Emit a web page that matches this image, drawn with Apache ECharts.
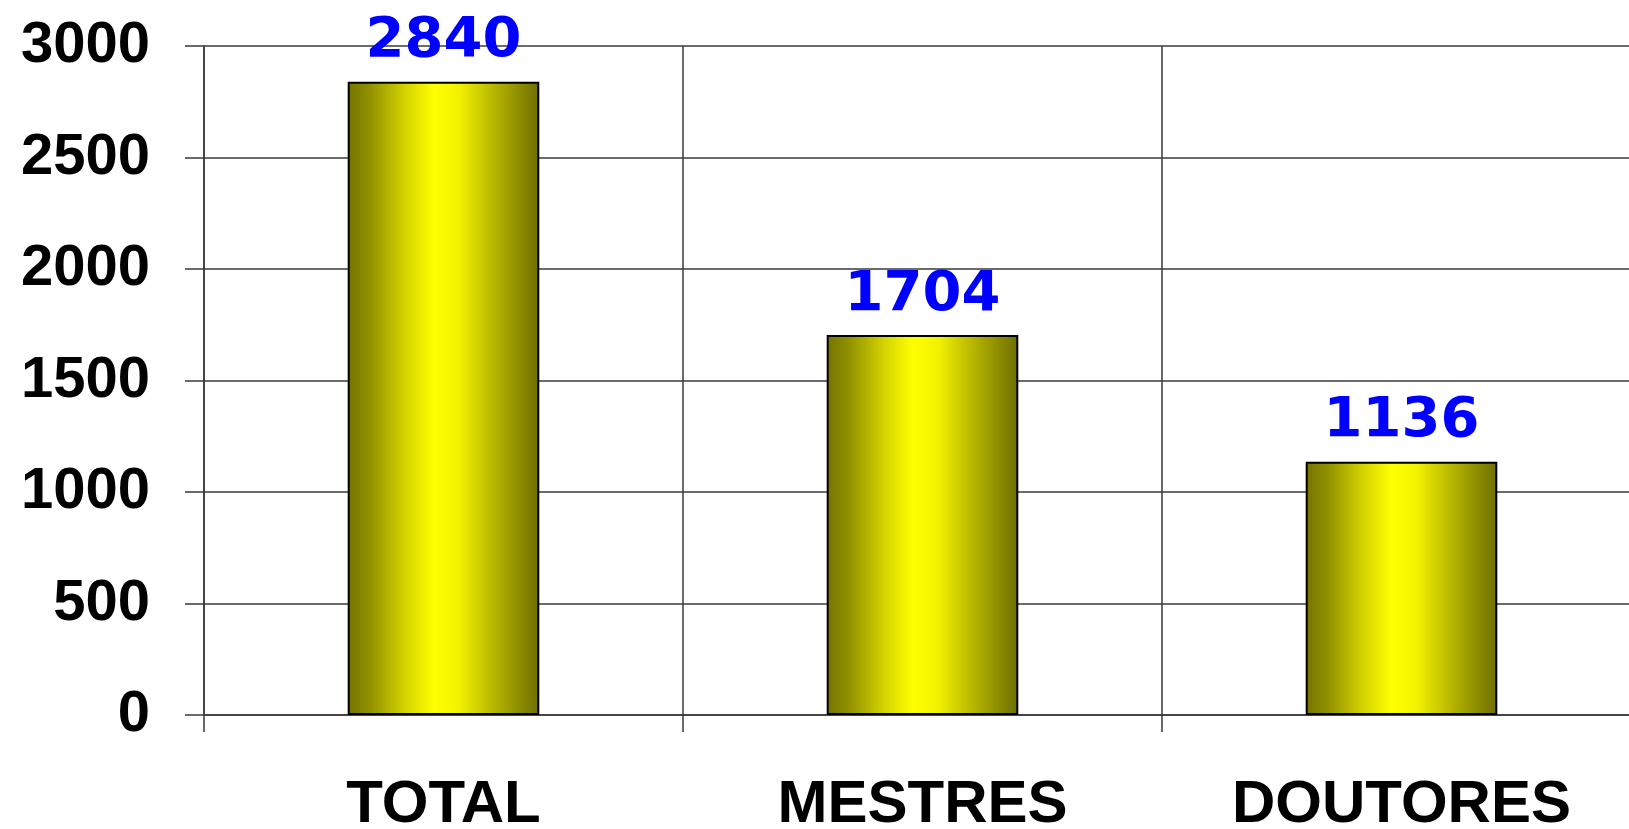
<!DOCTYPE html>
<html>
<head>
<meta charset="utf-8">
<script src="https://cdn.jsdelivr.net/npm/echarts@6/dist/echarts.min.js"></script>
<style>
  html, body { margin: 0; padding: 0; background: #ffffff; overflow: hidden; }
  #chart { width: 1629px; height: 829px; }
</style>
</head>
<body>
<div id="chart"></div>
<script>
// Titulados por nível
const categories = ['TOTAL', 'MESTRES', 'DOUTORES'];
const values = [2840, 1704, 1136];
const yTicks = [0, 500, 1000, 1500, 2000, 2500, 3000];

const chart = echarts.init(document.getElementById('chart'), null, { renderer: 'canvas' });

const lineColor = '#3a3a3a';

// Cylinder-like shading across each bar
const barFill = new echarts.graphic.LinearGradient(0, 0, 1, 0, [
  { offset: 0.00, color: '#747400' },
  { offset: 0.12, color: '#929200' },
  { offset: 0.30, color: '#d4d400' },
  { offset: 0.45, color: '#ffff00' },
  { offset: 0.58, color: '#f2f200' },
  { offset: 0.80, color: '#aaaa00' },
  { offset: 1.00, color: '#6e6e00' }
]);

chart.setOption({
  animation: false,
  backgroundColor: '#ffffff',
  // the plot runs a little past the right edge of the page
  grid: {
    left: 204, top: 46, height: 669, width: 1437,
    containLabel: false,
    outerBoundsMode: 'none'
  },
  xAxis: {
    type: 'category',
    data: categories,
    boundaryGap: true,
    axisLine: { show: true, lineStyle: { color: lineColor, width: 1.5 } },
    axisTick: { show: true, length: 17, inside: false, lineStyle: { color: lineColor, width: 1.5 } },
    splitLine: { show: true, lineStyle: { color: lineColor, width: 1.5 } },
    axisLabel: {
      margin: 60,
      color: '#000000',
      fontFamily: 'Liberation Sans, Arial, sans-serif',
      fontWeight: 'bold',
      fontSize: 60
    }
  },
  yAxis: {
    type: 'value',
    min: yTicks[0],
    max: yTicks[yTicks.length - 1],
    interval: yTicks[1] - yTicks[0],
    axisLine: { show: true, lineStyle: { color: lineColor, width: 1.5 } },
    axisTick: { show: true, length: 19, inside: false, lineStyle: { color: lineColor, width: 1.5 } },
    splitLine: { show: true, lineStyle: { color: lineColor, width: 1.5 } },
    axisLabel: {
      margin: 54,
      color: '#000000',
      fontFamily: 'Liberation Sans, Arial, sans-serif',
      fontWeight: 'bold',
      fontSize: 58,
      formatter: (v) => String(v)
    }
  },
  series: [{
    type: 'bar',
    data: values,
    barWidth: '40%',
    itemStyle: {
      color: barFill,
      borderColor: '#000000',
      borderWidth: 2
    },
    label: {
      show: true,
      position: 'top',
      distance: 12,
      color: '#0000ff',
      fontFamily: 'DejaVu Sans, Verdana, sans-serif',
      fontWeight: 'bold',
      fontSize: 56
    }
  }]
});
</script>
</body>
</html>
